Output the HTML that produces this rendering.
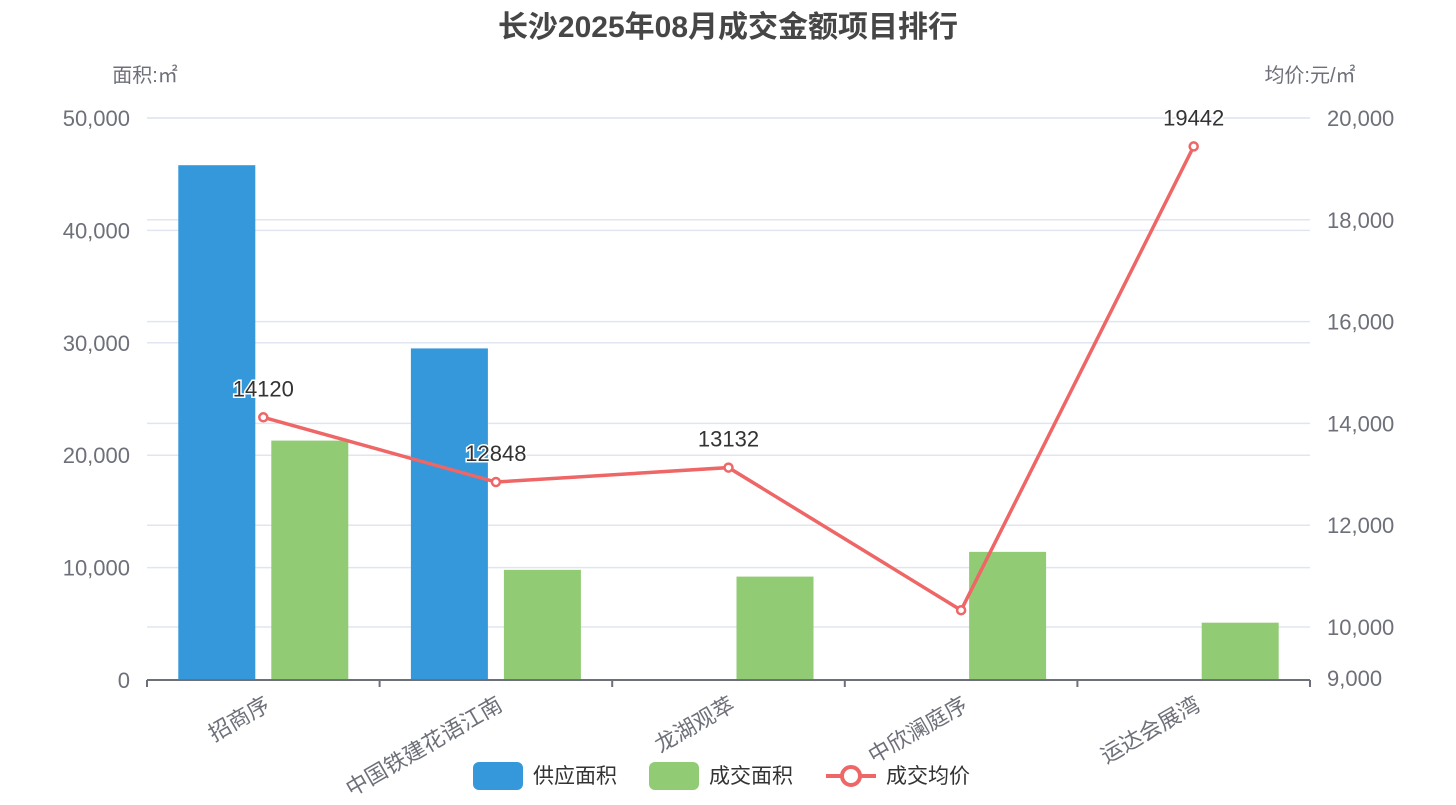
<!DOCTYPE html>
<html><head><meta charset="utf-8">
<style>
body{margin:0;background:#fff;font-family:"Liberation Sans","Noto Sans CJK SC",sans-serif;}
svg text{font-family:"Liberation Sans","Noto Sans CJK SC",sans-serif;}
</style></head>
<body>
<svg id="chart" width="1456" height="800" xmlns="http://www.w3.org/2000/svg">
<text x="728" y="37" text-anchor="middle" font-size="30" font-weight="bold" fill="#464646">长沙2025年08月成交金额项目排行</text>
<text x="145" y="82" text-anchor="middle" font-size="20" fill="#6e7079">面积:㎡</text>
<text x="1310" y="82" text-anchor="middle" font-size="20" fill="#6e7079">均价:元/㎡</text>
<g id="grid"></g><g id="bars"></g><g id="axes"></g><g id="line"></g>
<g>
<rect x="473" y="762" width="50" height="28" rx="6" fill="#3498db"/>
<text x="533" y="783" font-size="21" fill="#333">供应面积</text>
<rect x="649" y="762" width="50" height="28" rx="6" fill="#91cb74"/>
<text x="709" y="783" font-size="21" fill="#333">成交面积</text>
<line x1="826" y1="776" x2="876" y2="776" stroke="#ee6666" stroke-width="4"/>
<circle cx="851" cy="776" r="9" fill="#fff" stroke="#ee6666" stroke-width="4"/>
<text x="886" y="783" font-size="21" fill="#333">成交均价</text>
</g>
</svg>
<script>
const categories=["招商序","中国铁建花语江南","龙湖观萃","中欣澜庭序","运达会展湾"];
const supplyArea=[45800,29500,null,null,null];
const dealArea=[21300,9800,9200,11400,5100];
const avgPrice=[14120,12848,13132,10330,19442];
const leftTicks=[0,10000,20000,30000,40000,50000];
const rightTicks=[9000,10000,12000,14000,16000,18000,20000];
const NS="http://www.w3.org/2000/svg";
const X0=147,X1=1310,Y0=680,Y1=118;
const band=(X1-X0)/categories.length;
const xc=i=>X0+band*(i+0.5);
const yL=v=>Y0-(v/50000)*(Y0-Y1);
const yR=v=>627-(v-10000)/10000*(627-118);
function mk(tag,attrs,parent,txt){const e=document.createElementNS(NS,tag);for(const k in attrs)e.setAttribute(k,attrs[k]);if(txt!=null)e.textContent=txt;document.getElementById(parent).appendChild(e);return e;}
const fmt=v=>v.toLocaleString('en-US');
leftTicks.forEach(t=>{const y=yL(t);
 const g=mk('line',{x1:X0,x2:X1,y1:y,y2:y,stroke:'#e0e6f1','stroke-width':1.5},'grid');
 
 
 const l=mk('text',{x:130,y:y+8,'text-anchor':'end','font-size':22,fill:'#6e7079'},'axes',fmt(t));
 
 
});
rightTicks.forEach(t=>{const y=yR(t);
 if(t!==9000){const g=mk('line',{x1:X0,x2:X1,y1:y,y2:y,stroke:'#e0e6f1','stroke-width':1.5},'grid');
 
 }
 const l=mk('text',{x:1327,y:y+8,'font-size':22,fill:'#6e7079'},'axes',fmt(t));
 
 
});
const ax=mk('line',{x1:X0,x2:X1,y1:Y0,y2:Y0,stroke:'#6e7079','stroke-width':2},'axes');


for(let i=0;i<=categories.length;i++){const x=X0+band*i;
 const t=mk('line',{x1:x,x2:x,y1:Y0,y2:Y0+7,stroke:'#6e7079','stroke-width':2},'axes');
 
 }
categories.forEach((c,i)=>{const x=xc(i),y=Y0+15;
 const t=mk('text',{x:x+8,y:y+14,'text-anchor':'end','font-size':22,fill:'#6e7079',transform:`rotate(-30 ${x+8} ${y+14})`},'axes',c);
 
 
 if(supplyArea[i]!=null){const b=mk('rect',{x:x-85,y:yL(supplyArea[i]),width:77,height:Y0-yL(supplyArea[i]),fill:'#3498db'},'bars');
  
  }
 const g=mk('rect',{x:x+8,y:yL(dealArea[i]),width:77,height:Y0-yL(dealArea[i]),fill:'#91cb74'},'bars');
 
 
});
const pts=avgPrice.map((v,i)=>[xc(i),yR(v)]);
const pl=mk('polyline',{points:pts.map(p=>p.join(',')).join(' '),fill:'none',stroke:'#ee6666','stroke-width':3.5},'line');


pts.forEach((p,i)=>{
 const c=mk('circle',{cx:p[0],cy:p[1],r:4,fill:'#fff',stroke:'#ee6666','stroke-width':2.5},'line');
 
 
 if(i!==3){const t=mk('text',{x:p[0],y:p[1]-21,'text-anchor':'middle','font-size':22,fill:'#333',stroke:'#fff','stroke-width':3,'paint-order':'stroke'},'line',avgPrice[i]);
 
 }
});
</script>
</body></html>
